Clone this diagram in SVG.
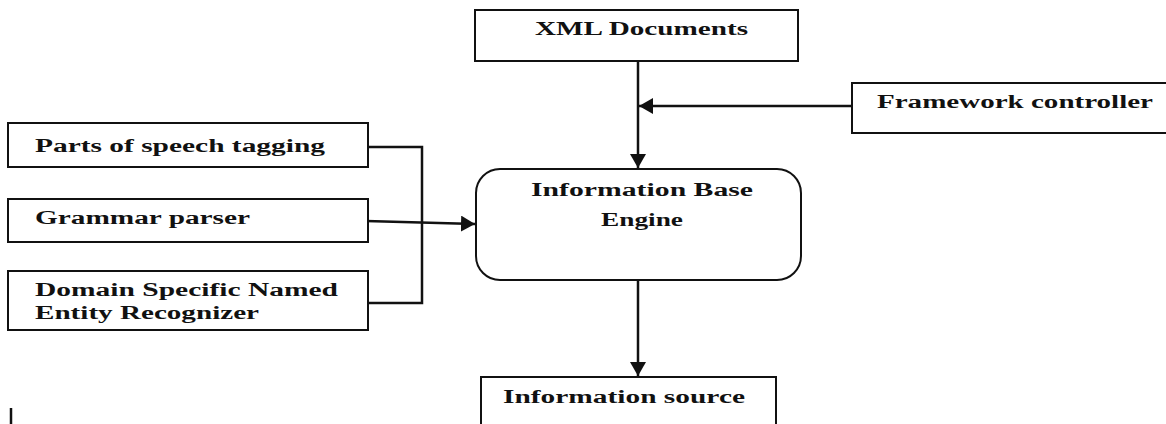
<svg xmlns="http://www.w3.org/2000/svg" width="1166" height="424" viewBox="0 0 1166 424">
<style>
.box{fill:#fff;stroke:#111;stroke-width:2}
.t{font-family:"Liberation Serif","Times New Roman",serif;font-weight:bold;font-size:18px;fill:#111}
.c{fill:none;stroke:#111;stroke-width:2.5}
</style>
<defs>
<marker id="ah" viewBox="0 0 14 16" refX="14" refY="8" markerWidth="14" markerHeight="16" markerUnits="userSpaceOnUse" orient="auto">
<path d="M0,0 L14,8 L0,16 Z" fill="#111"/>
</marker>
</defs>
<rect width="1166" height="424" fill="#fff"/>
<g id="connectors">
<line class="c" x1="638" y1="61" x2="638" y2="168" marker-end="url(#ah)"/>
<line class="c" x1="852" y1="106" x2="639" y2="106" marker-end="url(#ah)"/>
<polyline class="c" points="368,147 422,147 422,303 368,303"/>
<line class="c" x1="366" y1="221" x2="475" y2="224" marker-end="url(#ah)"/>
<line class="c" x1="638" y1="280" x2="638" y2="376" marker-end="url(#ah)"/>
<line class="c" x1="11" y1="408" x2="11" y2="424"/>
</g>
<g id="xml">
<rect class="box" x="475" y="10" width="323" height="51"/>
<text class="t" x="535" y="35" textLength="213" lengthAdjust="spacingAndGlyphs">XML Documents</text>
</g>
<g id="framework">
<rect class="box" x="852" y="83" width="320" height="50"/>
<text class="t" x="877" y="108" textLength="276" lengthAdjust="spacingAndGlyphs">Framework controller</text>
</g>
<g id="pos">
<rect class="box" x="8" y="123" width="360" height="44"/>
<text class="t" x="35" y="152" textLength="290" lengthAdjust="spacingAndGlyphs">Parts of speech tagging</text>
</g>
<g id="grammar">
<rect class="box" x="8" y="199" width="360" height="43"/>
<text class="t" x="35" y="224" textLength="215" lengthAdjust="spacingAndGlyphs">Grammar parser</text>
</g>
<g id="ner">
<rect class="box" x="8" y="271" width="360" height="59"/>
<text class="t" x="35" y="296" textLength="303" lengthAdjust="spacingAndGlyphs">Domain Specific Named</text>
<text class="t" x="35" y="319" textLength="224" lengthAdjust="spacingAndGlyphs">Entity Recognizer</text>
</g>
<g id="engine">
<rect class="box" x="476" y="169" width="325" height="111" rx="24" ry="24"/>
<text class="t" x="531" y="196" textLength="222" lengthAdjust="spacingAndGlyphs">Information Base</text>
<text class="t" x="601" y="226" textLength="82" lengthAdjust="spacingAndGlyphs">Engine</text>
</g>
<g id="source">
<rect class="box" x="481" y="377" width="295" height="60"/>
<text class="t" x="503" y="403" textLength="242" lengthAdjust="spacingAndGlyphs">Information source</text>
</g>
</svg>
